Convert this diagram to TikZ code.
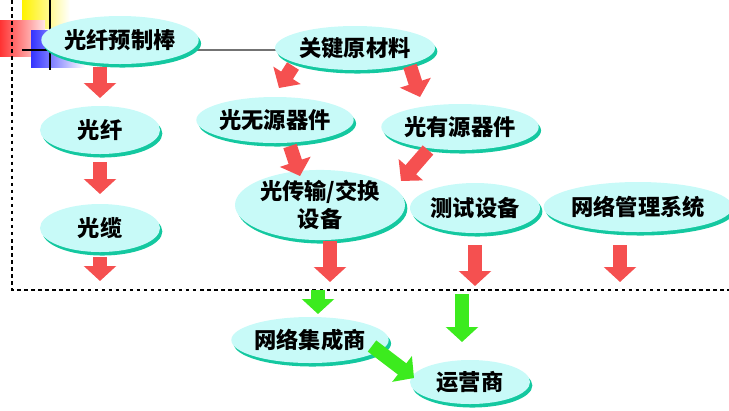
\documentclass[tikz,border=0pt]{standalone}
\usepackage{fontspec}
\setmainfont{Noto Sans CJK SC}
\usetikzlibrary{shapes.geometric,shadows,arrows.meta}
\definecolor{bubblefill}{RGB}{200,250,248}
\definecolor{bubbleshade}{RGB}{20,200,160}
\definecolor{redarrow}{RGB}{245,80,80}
\definecolor{greenarrow}{RGB}{60,235,30}
\tikzset{
  bubble/.style={ellipse, fill=bubblefill, inner sep=0pt, align=center,
    font=\fontsize{19}{24}\selectfont\bfseries,
    drop shadow={shadow xshift=2pt, shadow yshift=-3pt, fill=bubbleshade, opacity=1}},
  redflow/.style={line width=0.42cm, redarrow, -{Triangle[length=0.45cm,width=0.95cm]}},
  greenflow/.style={line width=0.42cm, greenarrow, -{Triangle[length=0.45cm,width=0.95cm]}}
}
\begin{document}
\begin{tikzpicture}[x=0.03cm,y=-0.03cm]
    \useasboundingbox (0,0) rectangle (729,410);

    % Corner mark
    \shade[left color=yellow!90!orange, right color=white] (22,0) rectangle (70,28);
    \shade[left color=red!80, right color=red!10] (0,20) rectangle (45,56);
    \shade[left color=blue!80, right color=white] (31,30) rectangle (85,67);
    \draw[line width=1.5pt] (50,0) -- (50,70);
    \draw[line width=1.5pt] (22,50) -- (50,50);
    \draw[line width=2.5pt, black!55] (50,50) -- (290,50);

    % Dashed frame
    \draw[dashed, line width=1pt] (12,0) -- (12,290) -- (729,290);

    % Bubbles
    \node[bubble, minimum width=4.5cm, minimum height=1.44cm] (preform) at (120,40) {光纤预制棒};
    \node[bubble, minimum width=4.8cm, minimum height=1.32cm] (material) at (355,48) {关键原材料};
    \node[bubble, minimum width=3.6cm, minimum height=1.44cm] (fiber) at (100,130) {光纤};
    \node[bubble, minimum width=4.5cm, minimum height=1.38cm] (passive) at (275,120) {光无源器件};
    \node[bubble, minimum width=4.5cm, minimum height=1.38cm] (active) at (460,127) {光有源器件};
    \node[bubble, minimum width=3.6cm, minimum height=1.44cm] (cable) at (100,228) {光缆};
    \node[bubble, minimum width=5.1cm, minimum height=2.1cm] (equip) at (320,205) {光传输/交换\\设备};
    \node[bubble, minimum width=3.9cm, minimum height=1.5cm] (test) at (475,208) {测试设备};
    \node[bubble, minimum width=5.1cm, minimum height=1.5cm] (nms) at (638,207) {网络管理系统};
    \node[bubble, minimum width=4.5cm, minimum height=1.38cm] (integrator) at (310,340) {网络集成商};
    \node[bubble, minimum width=3.6cm, minimum height=1.32cm] (operator) at (470,382) {运营商};

    % Red flows
    \draw[redflow] (100,67) -- (100,98);
    \draw[redflow] (100,162) -- (100,194);
    \draw[redflow] (100,257) -- (100,281);
    \draw[redflow] (293,66) -- (279,88);
    \draw[redflow] (410,66) -- (420,97);
    \draw[redflow] (290,146) -- (300,176);
    \draw[redflow] (428,150) -- (401,181);
    \draw[redflow] (330,241) -- (330,282);
    \draw[redflow] (475,245) -- (475,286);
    \draw[redflow] (620,245) -- (620,282);

    % Green flows
    \draw[greenflow] (318,290) -- (318,314);
    \draw[greenflow] (462,294) -- (462,342);
    \draw[greenflow] (372,346) -- (414,378);

\end{tikzpicture}
\end{document}
